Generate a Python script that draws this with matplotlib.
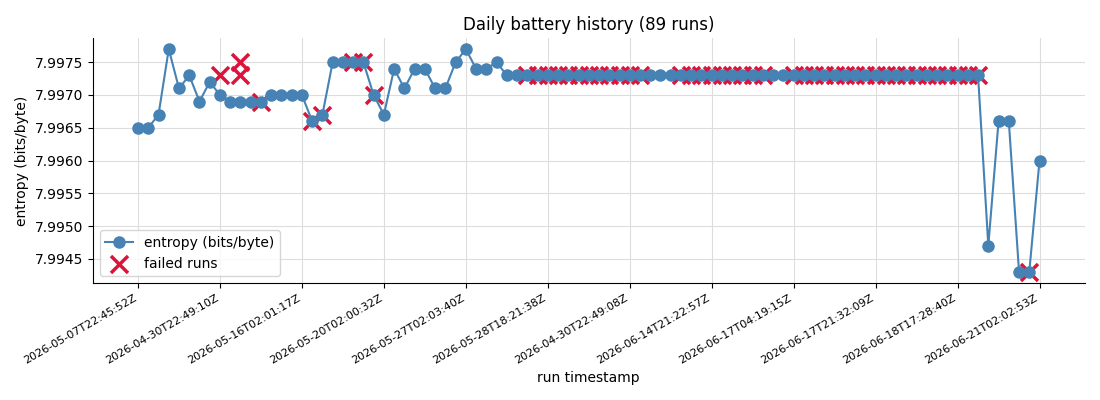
import matplotlib
matplotlib.use("Agg")
import matplotlib.pyplot as plt
import numpy as np

# entropy per run, in order
entropy = [
    7.9965, 7.9965, 7.9967, 7.9977, 7.9971, 7.9973, 7.9969, 7.9972, 7.9970, 7.9969,
    7.9969, 7.9969, 7.9969, 7.9970, 7.9970, 7.9970, 7.9970, 7.9966, 7.9967, 7.9975,
    7.9975, 7.9975, 7.9975, 7.9970, 7.9967, 7.9974, 7.9971, 7.9974, 7.9974, 7.9971,
    7.9971, 7.9975, 7.9977, 7.9974, 7.9974, 7.9975, 7.9973, 7.9973, 7.9973, 7.9973,
    7.9973, 7.9973, 7.9973, 7.9973, 7.9973, 7.9973, 7.9973, 7.9973, 7.9973, 7.9973,
    7.9973, 7.9973, 7.9973, 7.9973, 7.9973, 7.9973, 7.9973, 7.9973, 7.9973, 7.9973,
    7.9973, 7.9973, 7.9973, 7.9973, 7.9973, 7.9973, 7.9973, 7.9973, 7.9973, 7.9973,
    7.9973, 7.9973, 7.9973, 7.9973, 7.9973, 7.9973, 7.9973, 7.9973, 7.9973, 7.9973,
    7.9973, 7.9973, 7.9973, 7.9947, 7.9966, 7.9966, 7.9943, 7.9943, 7.9960,
]

# failed runs: position on the run axis and entropy
failed_pos = ([8, 10, 10, 12, 17, 18, 21, 22, 23]
              + list(range(38, 50)) + list(range(53, 62)) + list(range(64, 83))
              + [87])
failed_val = ([7.9973, 7.9975, 7.9973, 7.9969, 7.9966, 7.9967, 7.9975, 7.9975, 7.9970]
              + [7.9973] * 12 + [7.9973] * 9 + [7.9973] * 19
              + [7.9943])

tick_pos = list(range(0, 89, 8))
tick_labels = [
    "2026-05-07T22:45:52Z", "2026-04-30T22:49:10Z", "2026-05-16T02:01:17Z",
    "2026-05-20T02:00:32Z", "2026-05-27T02:03:40Z", "2026-05-28T18:21:38Z",
    "2026-04-30T22:49:08Z", "2026-06-14T21:22:57Z", "2026-06-17T04:19:15Z",
    "2026-06-17T21:32:09Z", "2026-06-18T17:28:40Z", "2026-06-21T02:02:53Z",
]

fig = plt.figure(figsize=(11, 4), dpi=100)
ax = fig.add_axes([0.0845, 0.2925, 0.9015, 0.6125])

runs = np.arange(len(entropy))
ax.scatter(failed_pos, failed_val, marker="x", s=150, linewidths=2.5,
           color="crimson", zorder=2, label="failed runs")
ax.plot(runs, entropy, "-o", color="steelblue", markersize=8, linewidth=1.5,
        zorder=3, label="entropy (bits/byte)")

ax.set_xticks(tick_pos)
ax.set_xticklabels(tick_labels, rotation=30, ha="right", fontsize=8)
ax.set_title("Daily battery history (89 runs)")
ax.set_xlabel("run timestamp")
ax.set_ylabel("entropy (bits/byte)")
ax.grid(color="#dddddd", linewidth=0.8)
ax.set_axisbelow(True)
ax.spines["top"].set_visible(False)
ax.spines["right"].set_visible(False)

h, l = ax.get_legend_handles_labels()
ax.legend(h[::-1], l[::-1], loc="lower left")

fig.savefig("out.png")
